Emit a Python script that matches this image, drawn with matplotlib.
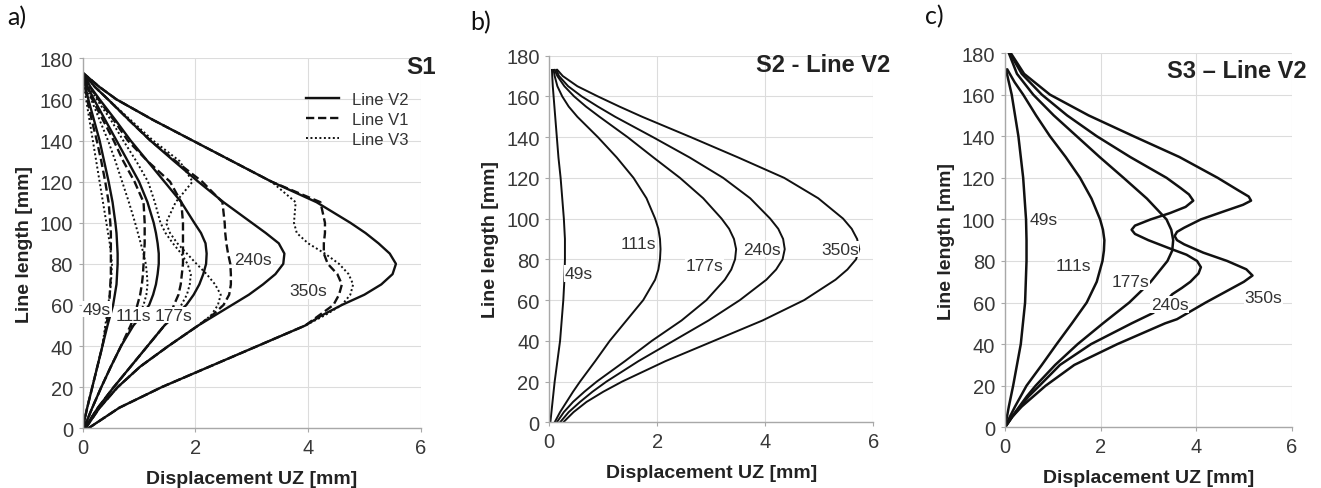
import numpy as np
import matplotlib
matplotlib.use('Agg')
import matplotlib.pyplot as plt

plt.rcParams['font.family'] = ['Liberation Sans', 'DejaVu Sans']

times = ['49s', '111s', '177s', '240s', '350s']

# ---- panel a (S1): three measuring lines, same y levels for every curve
ya = [0, 10, 20, 30, 40, 50, 55, 60, 65, 70, 75, 80, 85, 90, 95, 100, 110, 120, 130, 140, 150, 160, 166, 173]
a_v2 = [
    [0.0, 0.08, 0.17, 0.26, 0.35, 0.44, 0.49, 0.54, 0.57, 0.60, 0.61, 0.62, 0.62, 0.61, 0.60, 0.58, 0.53, 0.46, 0.38, 0.30, 0.20, 0.10, 0.05, 0.0],
    [0.02, 0.17, 0.33, 0.50, 0.68, 0.90, 1.05, 1.18, 1.25, 1.30, 1.33, 1.35, 1.35, 1.33, 1.30, 1.26, 1.15, 1.00, 0.80, 0.60, 0.40, 0.20, 0.09, 0.0],
    [0.03, 0.27, 0.55, 0.85, 1.15, 1.45, 1.65, 1.84, 1.97, 2.07, 2.14, 2.19, 2.20, 2.18, 2.10, 1.98, 1.75, 1.45, 1.15, 0.85, 0.58, 0.30, 0.14, 0.0],
    [0.05, 0.30, 0.62, 1.02, 1.52, 2.05, 2.35, 2.65, 2.95, 3.20, 3.42, 3.56, 3.58, 3.48, 3.25, 3.00, 2.50, 2.05, 1.62, 1.20, 0.82, 0.45, 0.22, 0.0],
    [0.10, 0.65, 1.40, 2.25, 3.10, 3.95, 4.25, 4.60, 5.00, 5.30, 5.50, 5.56, 5.45, 5.25, 5.02, 4.75, 4.15, 3.35, 2.65, 1.95, 1.25, 0.60, 0.30, 0.0],
]
a_v1 = [
    [0.0, 0.08, 0.17, 0.26, 0.35, 0.42, 0.45, 0.47, 0.48, 0.49, 0.50, 0.50, 0.50, 0.50, 0.50, 0.49, 0.46, 0.40, 0.33, 0.25, 0.16, 0.08, 0.04, 0.0],
    [0.02, 0.17, 0.33, 0.50, 0.68, 0.85, 0.92, 0.97, 1.02, 1.05, 1.07, 1.08, 1.09, 1.10, 1.10, 1.10, 1.08, 0.92, 0.72, 0.55, 0.36, 0.17, 0.08, 0.0],
    [0.03, 0.27, 0.55, 0.85, 1.15, 1.45, 1.55, 1.62, 1.70, 1.74, 1.76, 1.78, 1.78, 1.78, 1.78, 1.78, 1.75, 1.55, 1.15, 0.80, 0.55, 0.28, 0.13, 0.0],
    [0.05, 0.30, 0.62, 1.02, 1.52, 2.05, 2.30, 2.50, 2.60, 2.63, 2.63, 2.62, 2.58, 2.55, 2.53, 2.52, 2.48, 2.12, 1.65, 1.20, 0.82, 0.45, 0.22, 0.0],
    [0.10, 0.65, 1.40, 2.25, 3.10, 3.95, 4.20, 4.45, 4.55, 4.60, 4.52, 4.35, 4.28, 4.28, 4.30, 4.30, 4.22, 3.35, 2.65, 1.95, 1.25, 0.60, 0.30, 0.0],
]
a_v3 = [
    [0.0, 0.08, 0.17, 0.26, 0.35, 0.40, 0.43, 0.45, 0.48, 0.50, 0.51, 0.52, 0.50, 0.48, 0.45, 0.42, 0.36, 0.30, 0.24, 0.18, 0.12, 0.06, 0.03, 0.0],
    [0.02, 0.17, 0.33, 0.50, 0.68, 0.88, 1.00, 1.08, 1.13, 1.15, 1.14, 1.12, 1.08, 1.03, 0.98, 0.93, 0.82, 0.70, 0.58, 0.45, 0.30, 0.15, 0.07, 0.0],
    [0.03, 0.27, 0.55, 0.85, 1.15, 1.45, 1.62, 1.75, 1.85, 1.90, 1.92, 1.86, 1.75, 1.60, 1.47, 1.38, 1.28, 1.16, 0.95, 0.72, 0.50, 0.25, 0.12, 0.0],
    [0.05, 0.30, 0.62, 1.02, 1.52, 2.05, 2.28, 2.40, 2.45, 2.35, 2.20, 2.02, 1.85, 1.68, 1.55, 1.48, 1.65, 1.95, 1.72, 1.25, 0.85, 0.45, 0.22, 0.0],
    [0.10, 0.65, 1.40, 2.25, 3.10, 3.95, 4.30, 4.60, 4.75, 4.80, 4.72, 4.55, 4.30, 4.00, 3.80, 3.75, 3.78, 3.35, 2.65, 1.95, 1.25, 0.60, 0.30, 0.0],
]
a_lab_x = [0.25, 0.9, 1.61, 3.03, 4.0]
a_lab_y = [58, 55, 55, 82, 67]

# ---- panel b (S2 - Line V2)
yb = [0, 5, 10, 15, 20, 30, 40, 50, 60, 70, 75, 80, 85, 90, 95, 100, 110, 120, 130, 140, 150, 155, 160, 165, 170, 173]
b_v2 = [
    [0.02, 0.04, 0.06, 0.08, 0.10, 0.15, 0.20, 0.23, 0.26, 0.28, 0.285, 0.29, 0.29, 0.29, 0.28, 0.27, 0.24, 0.21, 0.17, 0.14, 0.11, 0.095, 0.08, 0.065, 0.055, 0.05],
    [0.10, 0.20, 0.32, 0.44, 0.57, 0.85, 1.12, 1.43, 1.74, 1.96, 2.02, 2.05, 2.06, 2.05, 2.02, 1.96, 1.80, 1.56, 1.25, 0.90, 0.52, 0.36, 0.24, 0.15, 0.10, 0.08],
    [0.14, 0.27, 0.44, 0.65, 0.88, 1.40, 1.90, 2.45, 2.91, 3.25, 3.37, 3.44, 3.46, 3.42, 3.33, 3.19, 2.85, 2.42, 1.93, 1.45, 0.93, 0.68, 0.46, 0.28, 0.15, 0.10],
    [0.20, 0.36, 0.57, 0.80, 1.06, 1.65, 2.30, 2.95, 3.53, 4.02, 4.20, 4.32, 4.36, 4.33, 4.24, 4.09, 3.72, 3.22, 2.60, 1.92, 1.22, 0.90, 0.60, 0.35, 0.18, 0.13],
    [0.26, 0.45, 0.69, 1.00, 1.35, 2.15, 3.05, 3.95, 4.72, 5.30, 5.52, 5.68, 5.74, 5.70, 5.60, 5.44, 4.98, 4.35, 3.50, 2.62, 1.72, 1.30, 0.90, 0.52, 0.25, 0.15],
]
b_lab_x = [0.55, 1.65, 2.88, 3.93, 5.38]
b_lab_y = [73, 88, 77, 85, 85]

# ---- panel c (S3 - Line V2), each curve has its own y levels
c_y = [
    [0, 10, 20, 40, 60, 80, 90, 100, 120, 140, 160, 172],
    [0, 5, 10, 20, 30, 40, 50, 60, 70, 80, 85, 90, 95, 100, 110, 120, 130, 140, 150, 160, 166, 172],
    [0, 5, 10, 15, 20, 30, 40, 50, 60, 70, 80, 85, 90, 95, 100, 110, 120, 130, 140, 150, 160, 170, 180],
    [0, 5, 10, 15, 20, 30, 40, 50, 55, 60, 64, 67, 70, 74, 77, 80, 83, 86, 90, 93, 95, 97, 100, 103, 106, 109,
     112, 115, 120, 130, 140, 150, 160, 170, 180],
    [0, 5, 10, 15, 20, 30, 40, 50, 52, 56, 60, 65, 70, 73, 76, 80, 84, 88, 90, 92, 94, 96, 100, 104, 107, 109,
     111, 114, 120, 130, 140, 150, 160, 170, 180],
]
c_x = [
    [0, 0.08, 0.17, 0.33, 0.42, 0.45, 0.45, 0.44, 0.38, 0.28, 0.14, 0.02],
    [0, 0.10, 0.21, 0.45, 0.77, 1.08, 1.40, 1.71, 1.92, 2.04, 2.07, 2.08, 2.05, 1.99, 1.81, 1.57, 1.27, 0.94, 0.65, 0.38, 0.20, 0.05],
    [0, 0.14, 0.30, 0.46, 0.64, 1.05, 1.52, 2.05, 2.60, 3.05, 3.40, 3.50, 3.52, 3.48, 3.38, 2.97, 2.48, 1.98, 1.50, 1.02, 0.59, 0.25, 0.08],
    [0, 0.15, 0.32, 0.50, 0.72, 1.15, 1.80, 2.65, 3.10, 3.35, 3.50, 3.70, 3.88, 4.05, 4.10, 4.02, 3.80, 3.45, 3.00, 2.72, 2.65, 2.72,
     3.05, 3.45, 3.78, 3.94, 3.85, 3.68, 3.38, 2.62, 1.92, 1.30, 0.77, 0.35, 0.10],
    [0, 0.15, 0.35, 0.60, 0.85, 1.45, 2.35, 3.35, 3.60, 3.90, 4.20, 4.60, 5.00, 5.18, 5.05, 4.65, 4.15, 3.75, 3.60, 3.55, 3.60, 3.75,
     4.10, 4.60, 4.98, 5.15, 5.10, 4.88, 4.45, 3.65, 2.69, 1.75, 0.94, 0.40, 0.12],
]
c_lab_x = [0.8, 1.43, 2.62, 3.45, 5.41]
c_lab_y = [100, 78, 70, 59, 62.5]

ink = '#111111'
lbl_box = dict(facecolor='white', edgecolor='none', pad=0.5)


def style(ax):
    ax.set_xlim(0, 6)
    ax.set_ylim(0, 180)
    ax.set_xticks([0, 2, 4, 6])
    ax.set_yticks(range(0, 181, 20))
    ax.grid(color='#dcdcdc', lw=0.8)
    ax.set_axisbelow(True)
    for s in ['top', 'right']:
        ax.spines[s].set_visible(False)
    for s in ['left', 'bottom']:
        ax.spines[s].set_color('#a8a8a8')
        ax.spines[s].set_linewidth(1.0)
    ax.tick_params(direction='out', length=3, color='#a8a8a8', labelsize=14.5,
                   labelcolor='#383838', pad=4)
    ax.set_xlabel('Displacement UZ [mm]', fontsize=14, fontweight='bold', color='#222222', labelpad=9)
    ax.set_ylabel('Line length [mm]', fontsize=14, fontweight='bold', color='#222222', labelpad=5)


fig = plt.figure(figsize=(13.21, 4.89), dpi=100)

# panel a
ax = fig.add_axes([0.0626, 0.1221, 0.2559, 0.7566])
style(ax)
for i in range(5):
    ax.plot(a_v3[i], ya, color=ink, lw=1.4, dashes=(1, 1.3), label='Line V3' if i == 0 else None)
    ax.plot(a_v1[i], ya, color=ink, lw=1.7, dashes=(3.5, 1.6), label='Line V1' if i == 0 else None)
    ax.plot(a_v2[i], ya, color=ink, lw=1.7, label='Line V2' if i == 0 else None)
for i in range(5):
    ax.text(a_lab_x[i], a_lab_y[i], times[i], fontsize=12.5, color='#333333',
            ha='center', va='center', bbox=lbl_box, zorder=5)
h, l = ax.get_legend_handles_labels()
order = [2, 1, 0]
ax.legend([h[k] for k in order], [l[k] for k in order], loc='upper right',
          bbox_to_anchor=(1.01, 0.95), frameon=False, fontsize=12, handlelength=2.0,
          labelspacing=0.3, handletextpad=0.8, labelcolor='#333333')
ax.text(1.045, 0.977, 'S1', transform=ax.transAxes, ha='right', va='center',
        fontsize=17.5, fontweight='bold', color='#222222')

# panel b
ax = fig.add_axes([0.4158, 0.1344, 0.2453, 0.7497])
style(ax)
for i in range(5):
    ax.plot(b_v2[i], yb, color=ink, lw=1.4)
    ax.text(b_lab_x[i], b_lab_y[i], times[i], fontsize=12.5, color='#333333',
            ha='center', va='center', bbox=lbl_box, zorder=5)
ax.text(1.052, 0.977, 'S2 - Line V2', transform=ax.transAxes, ha='right', va='center',
        fontsize=17, fontweight='bold', color='#222222')

# panel c
ax = fig.add_axes([0.7608, 0.1241, 0.2170, 0.7654])
style(ax)
for i in range(5):
    ax.plot(c_x[i], c_y[i], color=ink, lw=1.8)
    ax.text(c_lab_x[i], c_lab_y[i], times[i], fontsize=12.5, color='#333333',
            ha='center', va='center', bbox=lbl_box, zorder=5)
ax.text(1.053, 0.952, 'S3 \u2013 Line V2', transform=ax.transAxes, ha='right', va='center',
        fontsize=17, fontweight='bold', color='#222222')

for lx, ly, t in [(7, 18, 'a)'), (470, 23, 'b)'), (925, 17, 'c)')]:
    fig.text(lx / 1321, 1 - ly / 489, t, fontsize=18, family=['Lato', 'DejaVu Sans'],
             va='center', ha='left', color='#111111')

fig.savefig('out.png', dpi=100)
